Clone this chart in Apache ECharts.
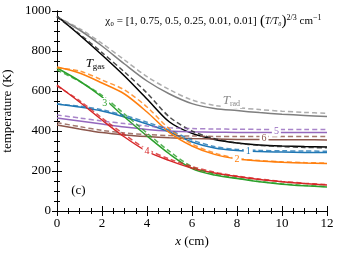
<!DOCTYPE html>
<html><head><meta charset="utf-8">
<script src="https://cdn.jsdelivr.net/npm/echarts@6/dist/echarts.min.js"></script>
<style>html,body{margin:0;padding:0;background:#fff}#c{width:340px;height:253px}</style>
</head><body><div id="c"></div>
<script>
const xs = [0,1,2,3,4,5,6,7,8,9,10,11,12];
const tradSolid = [970,905,825,735,650,585,537,513,502,492,484,478,472];
const tradDash  = [970,912,838,755,672,607,555,528,517,507,499,493,488];
const gasSolid  = [975,880,780,675,560,445,388,358,340,330,325,322,320];
const gasDash   = [970,885,792,695,590,470,400,362,340,328,322,318,316];
const s1Solid = [535,520,500,470,435,395,345,315,302,297,295,293,292];
const s1Dash  = [535,524,506,478,444,405,355,322,308,303,301,300,299];
const s2Solid = [720,690,640,585,495,392,325,283,260,250,244,240,238];
const s2Dash  = [715,700,655,605,520,410,335,290,263,252,246,242,240];
const s3Solid = [715,650,570,470,375,285,212,180,162,146,134,126,120];
const s3Dash  = [705,648,578,485,390,298,222,185,165,148,136,128,122];
const s4Solid = [630,545,455,370,298,252,215,190,172,157,146,137,130];
const s4Dash  = [625,552,465,382,308,260,222,194,175,160,148,139,132];
const s5Solid = [465,450,435,420,408,400,396,394,393,392,392,392,392];
const s5Dash  = [480,465,450,437,425,416,412,410,409,408,408,408,408];
const s6Solid = [430,410,392,380,372,366,362,360,358,357,356,356,355];
const s6Dash  = [442,422,403,390,382,377,375,373,372,372,372,372,372];
const xTicks = [0,2,4,6,8,10,12];
const yTicks = [0,200,400,600,800,1000];

const pairs = a => xs.map((x,i)=>[x,a[i]]);
const serif = 'Liberation Serif';
function line(name, data, color, dashed, label) {
  const s = {
    name, type:'line', data:pairs(data), symbol:'none', smooth:0.3,
    lineStyle:{color, width:1.5, type: dashed ? [5,3] : 'solid', opacity: dashed ? 0.8 : 1},
    z: dashed ? 3 : 2, animation:false, silent:true
  };
  if (label) {
    s.markPoint = {symbol:'rect', symbolSize:1, itemStyle:{color:'rgba(0,0,0,0)'}, silent:true, animation:false,
      data: [{coord: label.coord, label:{show:true, position:'inside', formatter: label.text, color: label.color||color,
        fontFamily: serif, fontSize: label.size||10, backgroundColor: label.bg===undefined ? '#fff' : label.bg, padding:[0,2], rich: label.rich}}]};
  }
  return s;
}
const chart = echarts.init(document.getElementById('c'), null, {renderer:'canvas'});
const axisCommon = {
  axisLine:{show:true, lineStyle:{color:'#000', width:1}},
  axisTick:{show:true, inside:true, length:5, lineStyle:{color:'#000'}},
  minorTick:{show:true, splitNumber:4, length:3, lineStyle:{color:'#000'}},
  splitLine:{show:false}
};
chart.setOption({
  animation:false,
  grid:{left:57, right:13, top:11, bottom:42, containLabel:false, outerBoundsMode:'none'},
  xAxis:[
    Object.assign({type:'value', min:0, max:12, interval:2, position:'bottom',
      axisLabel:{fontFamily:serif, fontSize:13, color:'#000', margin:6, formatter: v => String(v)},
      name:'{i|x} (cm)', nameLocation:'middle', nameGap:23,
      nameTextStyle:{fontFamily:serif, fontSize:13, color:'#000', rich:{i:{fontFamily:serif, fontStyle:'italic', fontSize:13}}}}, axisCommon),
    Object.assign({type:'value', min:0, max:12, interval:2, position:'top', axisLabel:{show:false}}, axisCommon)
  ],
  yAxis:[
    Object.assign({type:'value', min:0, max:1000, interval:200, position:'left',
      axisLabel:{fontFamily:serif, fontSize:13, color:'#000', margin:6, formatter: v => String(v)},
      name:'temperature (K)', nameLocation:'middle', nameGap:33,
      nameTextStyle:{fontFamily:serif, fontSize:13, color:'#000'}}, axisCommon),
    Object.assign({type:'value', min:0, max:1000, interval:200, position:'right', axisLabel:{show:false}}, axisCommon)
  ],
  series:[
    line('trad', tradSolid, '#7f7f7f', false),
    line('tradd', tradDash, '#999999', true, {coord:[7.75,550], text:'{t|T}{s|rad}', color:'#888', size:12,
      rich:{t:{fontFamily:serif, fontStyle:'italic', fontSize:13, color:'#888'}, s:{fontFamily:serif, fontSize:8, color:'#888', verticalAlign:'bottom', padding:[6,0,0,0]}}}),
    line('gas', gasSolid, '#000000', false, {coord:[1.7,738], text:'{t|T}{s|gas}', color:'#000', size:12, bg:'transparent',
      rich:{t:{fontFamily:serif, fontStyle:'italic', fontSize:13, color:'#000'}, s:{fontFamily:serif, fontSize:9, color:'#000', verticalAlign:'bottom', padding:[6,0,0,0]}}}),
    line('gasd', gasDash, '#222222', true),
    line('s6', s6Solid, '#8c564b', false, {coord:[9.2,362], text:'6'}),
    line('s6d', s6Dash, '#8c564b', true),
    line('s5', s5Solid, '#9467bd', false, {coord:[9.75,397], text:'5'}),
    line('s5d', s5Dash, '#9467bd', true),
    line('s1', s1Solid, '#1f77b4', false, {coord:[8.5,300], text:'1'}),
    line('s1d', s1Dash, '#1f77b4', true),
    line('s2', s2Solid, '#ff7f0e', false, {coord:[8.0,258], text:'2'}),
    line('s2d', s2Dash, '#ff7f0e', true),
    line('s3', s3Solid, '#2ca02c', false, {coord:[2.12,540], text:'3'}),
    line('s3d', s3Dash, '#2ca02c', true),
    line('s4', s4Solid, '#d62728', false, {coord:[4.0,298], text:'4'}),
    line('s4d', s4Dash, '#d62728', true),
    {type:'scatter', data:[], markPoint:{symbol:'rect', symbolSize:1, itemStyle:{color:'rgba(0,0,0,0)'}, animation:false,
      data:[
        {coord:[0.95,100], label:{show:true, position:'inside', formatter:'(c)', fontFamily:serif, fontSize:13, color:'#000'}},
        {coord:[6.95,950], label:{show:true, position:'inside',
          formatter:'{a|χ₀ = [1, 0.75, 0.5, 0.25, 0.01, 0.01]} {b|(}{f|T/T₀}{b|)}{p|2/3}{a| cm}{p|−1}',
          rich:{a:{fontFamily:serif, fontSize:11, color:'#000'}, b:{fontFamily:serif, fontSize:15, color:'#000'},
                f:{fontFamily:serif, fontStyle:'italic', fontSize:9.5, color:'#000'},
                p:{fontFamily:serif, fontSize:8, color:'#000', verticalAlign:'top', padding:[0,0,7,0]}}}}
      ]}}
  ]
});
</script></body></html>
